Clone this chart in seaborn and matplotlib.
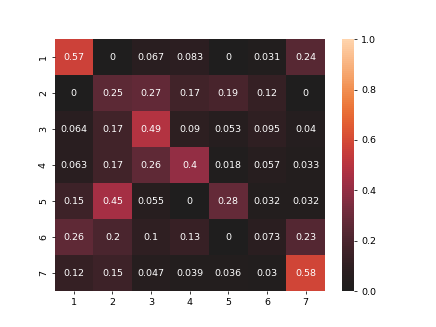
import numpy as np
import pandas as pd
import matplotlib
matplotlib.use("Agg")
import matplotlib.pyplot as plt
import seaborn as sns

labels = [1, 2, 3, 4, 5, 6, 7]

row1 = [0.57, 0, 0.067, 0.083, 0, 0.031, 0.24]
row2 = [0, 0.25, 0.27, 0.17, 0.19, 0.12, 0]
row3 = [0.064, 0.17, 0.49, 0.09, 0.053, 0.095, 0.04]
row4 = [0.063, 0.17, 0.26, 0.4, 0.018, 0.057, 0.033]
row5 = [0.15, 0.45, 0.055, 0, 0.28, 0.032, 0.032]
row6 = [0.26, 0.2, 0.1, 0.13, 0, 0.073, 0.23]
row7 = [0.12, 0.15, 0.047, 0.039, 0.036, 0.03, 0.58]

df = pd.DataFrame([row1, row2, row3, row4, row5, row6, row7],
                  index=labels, columns=labels)

fig = plt.figure(figsize=(6.4, 4.8), dpi=68.125)
sns.heatmap(df, annot=True, vmin=0, vmax=1, center=0)

plt.savefig("out.png")
